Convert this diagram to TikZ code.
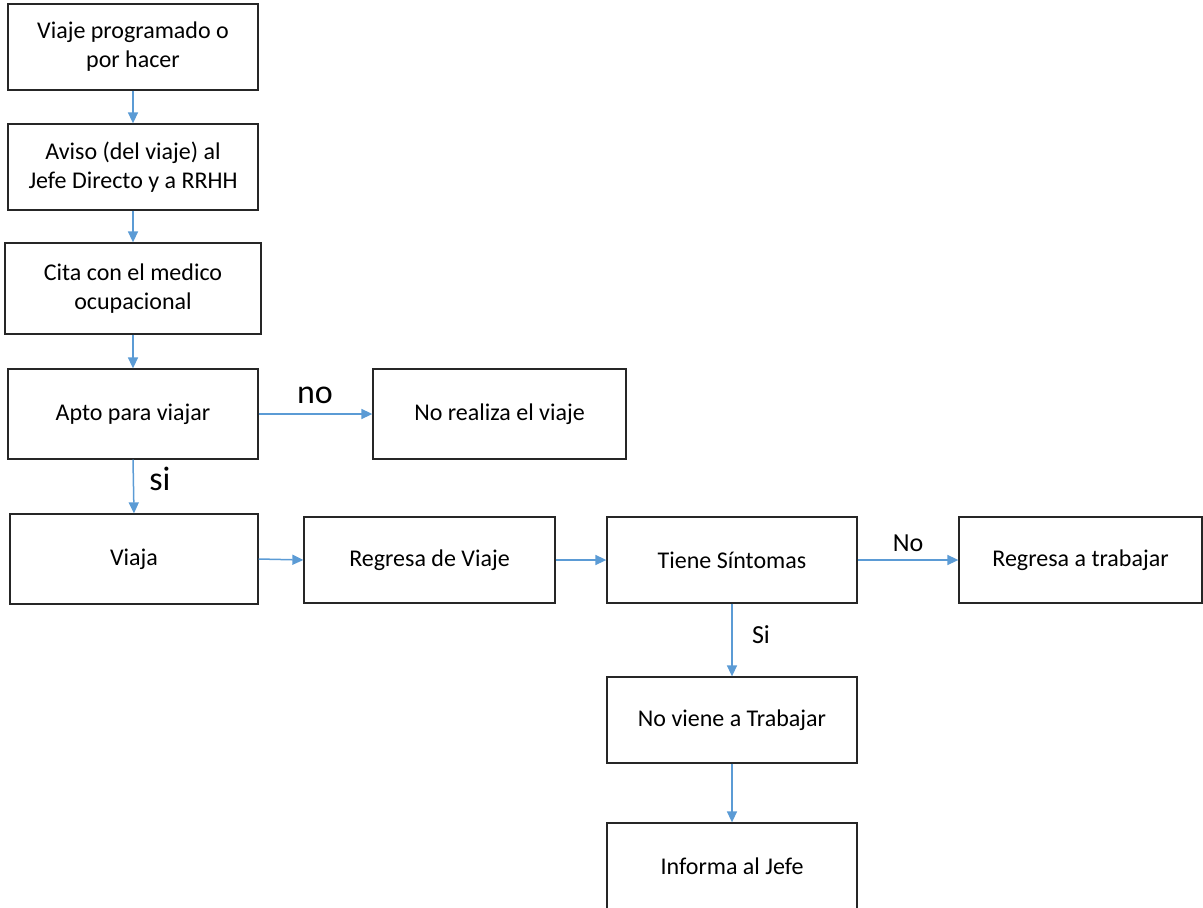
\documentclass[tikz,border=0pt]{standalone}
\usepackage{fontspec}
\setmainfont{Carlito}
\usetikzlibrary{arrows.meta}
\definecolor{arrowblue}{RGB}{91,155,213}
\tikzset{
  box/.style={draw=black!85, line width=1.3pt, rectangle, align=center, font=\fontsize{24}{29}\selectfont, inner sep=0pt},
  flow/.style={draw=arrowblue, line width=1.5pt, -{Triangle[length=11pt,width=10pt]}},
  biglbl/.style={anchor=base, font=\fontsize{34}{40}\selectfont},
  midlbl/.style={anchor=base, font=\fontsize{26}{31}\selectfont}
}
\begin{document}
\begin{tikzpicture}[x=1pt,y=-1pt]
\useasboundingbox (0,0) rectangle (1203,908);
\clip (0,0) rectangle (1203,908);
\node[box, minimum width=250pt, minimum height=86pt] (b1) at (133,47) {Viaje programado o\\por hacer};
\node[box, minimum width=250pt, minimum height=86pt] (b2) at (133,167) {Aviso (del viaje) al\\Jefe Directo y a RRHH};
\node[box, minimum width=256pt, minimum height=91pt] (b3) at (133,288.5) {Cita con el medico\\ocupacional};
\node[box, minimum width=250pt, minimum height=90pt] (b4) at (133,414) {Apto para viajar};
\node[box, minimum width=253pt, minimum height=90pt] (b5) at (499.5,414) {No realiza el viaje};
\node[box, minimum width=248pt, minimum height=90pt] (b6) at (134,559) {Viaja};
\node[box, minimum width=251pt, minimum height=86pt] (b7) at (429.5,560) {Regresa de Viaje};
\node[box, minimum width=250pt, minimum height=86pt] (b8) at (732,560) {Tiene Síntomas};
\node[box, minimum width=243pt, minimum height=86pt] (b9) at (1080.5,560) {Regresa a trabajar};
\node[box, minimum width=250pt, minimum height=86pt] (b10) at (732,720) {No viene a Trabajar};
\node[box, minimum width=250pt, minimum height=87pt] (b11) at (732,866.5) {Informa al Jefe};

\draw[flow] (b1.south) -- (b2.north);
\draw[flow] (b2.south) -- (b3.north);
\draw[flow] (b3.south) -- (b4.north);
\draw[flow] (b4.east) -- (b5.west);
\draw[flow] (b4.south) -- (b6.north);
\draw[flow] (b6.east) -- (b7.west);
\draw[flow] (b7.east) -- (b8.west);
\draw[flow] (b8.east) -- (b9.west);
\draw[flow] (b8.south) -- (b10.north);
\draw[flow] (b10.south) -- (b11.north);

\node[biglbl] (lno) at (315,403) {no};
\node[biglbl] (lsi) at (160,490) {si};
\node[midlbl] (lNo) at (908,551) {No};
\node[midlbl] (lSi) at (761,643) {Si};
\end{tikzpicture}
\end{document}
